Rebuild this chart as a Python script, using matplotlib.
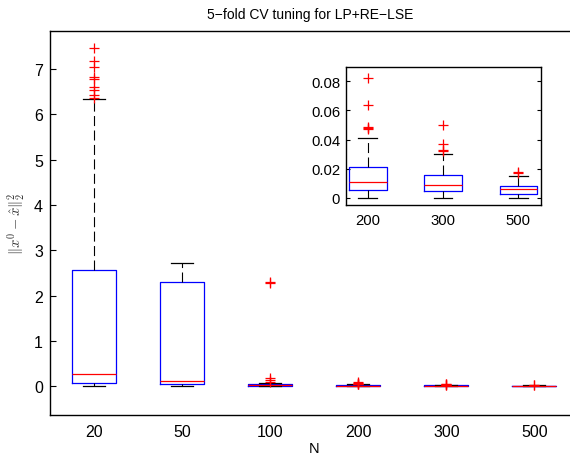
import matplotlib
matplotlib.use("Agg")
import matplotlib.pyplot as plt

plt.rcParams['font.family'] = ['Liberation Sans', 'DejaVu Sans']
plt.rcParams['mathtext.fontset'] = 'cm'

# ---- data ----
labels = ['20', '50', '100', '200', '300', '500']
q1 = [0.07, 0.044, 0.012, 0.0053, 0.005, 0.0025]
med = [0.26, 0.11, 0.028, 0.0107, 0.0087, 0.006]
q3 = [2.57, 2.31, 0.042, 0.0212, 0.0158, 0.0082]
whislo = [0.01, 0.0, 0.0, 0.0, 0.0, 0.0]
whishi = [6.34, 2.73, 0.07, 0.041, 0.0303, 0.0149]
fliers = [
    [7.47, 7.17, 7.04, 6.82, 6.78, 6.60, 6.55, 6.44, 6.37],
    [],
    [2.31, 2.27, 0.17, 0.13, 0.10],
    [0.082, 0.064, 0.049, 0.048, 0.047],
    [0.050, 0.037, 0.033, 0.032],
    [0.018, 0.017],
]
inset_idx = [3, 4, 5]
main_yticks = [0, 1, 2, 3, 4, 5, 6, 7]
inset_yticks = [0, 0.02, 0.04, 0.06, 0.08]
inset_yticklabels = ['0', '0.02', '0.04', '0.06', '0.08']


def make_stats(idx):
    return [dict(med=med[i], q1=q1[i], q3=q3[i], whislo=whislo[i],
                 whishi=whishi[i], fliers=fliers[i], label=labels[i])
            for i in idx]


def draw(ax, idx):
    ax.bxp(make_stats(idx), positions=list(range(1, len(idx) + 1)), widths=0.5,
           showfliers=True, manage_ticks=False,
           boxprops=dict(color='blue', linewidth=0.9),
           medianprops=dict(color='red', linewidth=0.9),
           whiskerprops=dict(color='black', linewidth=0.8, linestyle=(0, (9, 4))),
           capprops=dict(color='black', linewidth=0.9),
           capwidths=0.25,
           flierprops=dict(marker='+', markeredgecolor='red', markersize=7,
                           markeredgewidth=0.9, linestyle='none'))


fig = plt.figure(figsize=(5.7, 4.56), dpi=100)
W, H = 570, 456

ax = fig.add_axes([50 / W, 1 - 415.7 / H, 528.5 / W, 384 / H])
draw(ax, range(6))
ax.set_xlim(0.5, 6.5)
ax.set_ylim(-0.63, 7.85)
ax.set_xticks(range(1, 7))
ax.set_xticklabels(labels)
ax.set_yticks(main_yticks)
ax.tick_params(axis='y', direction='in', length=4, width=0.8, labelsize=11.5, pad=5)
ax.tick_params(axis='x', length=0, labelsize=11.5, pad=7)
for s in ax.spines.values():
    s.set_linewidth(1.0)
ax.set_xlabel('N', fontsize=10.5, labelpad=1)
ax.set_ylabel(r'$\|x^0-\hat{x}\|_2^2$', fontsize=10.5, labelpad=5, color='#333333')
fig.text((50 + 578.5) / 2 / W - 0.008, 1 - 15 / H, '5\u2212fold CV tuning for LP+RE\u2212LSE',
         ha='center', va='center', fontsize=10)

ins = fig.add_axes([345.7 / W, 1 - 206 / H, 195 / W, 137.7 / H])
draw(ins, inset_idx)
ins.set_xlim(0.708, 3.297)
ins.set_ylim(-0.0048, 0.0896)
ins.set_xticks([1, 2, 3])
ins.set_xticklabels([labels[i] for i in inset_idx])
ins.set_yticks(inset_yticks)
ins.set_yticklabels(inset_yticklabels)
ins.tick_params(axis='y', direction='in', length=3, width=0.8, labelsize=10.7,
                right=True, pad=4)
ins.tick_params(axis='x', length=0, labelsize=10.7, pad=6)
for s in ins.spines.values():
    s.set_linewidth(1.0)

fig.savefig('out.png', dpi=100)
